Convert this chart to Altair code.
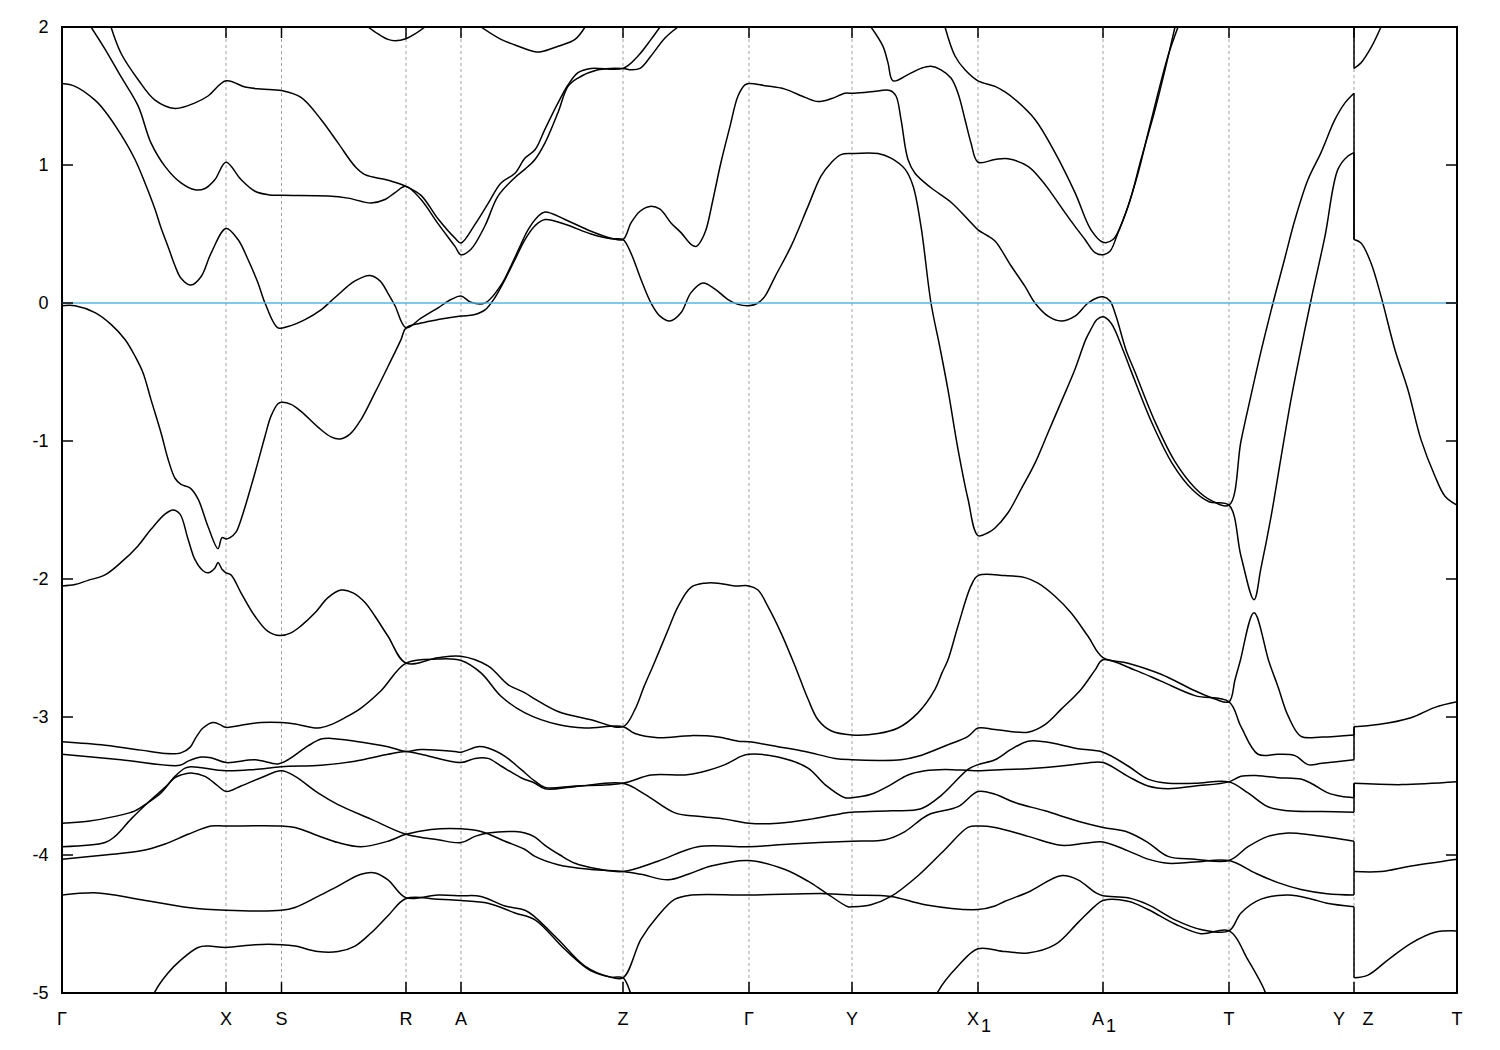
import altair as alt
import pandas as pd

# ---- high-symmetry points along the k-path (path-length units) ----
kpoint_k = [0, 164, 219.5, 344, 399, 561, 687, 790, 916, 1041, 1167, 1292, 1395]
inner_k = [164, 219.5, 344, 399, 561, 687, 790, 916, 1041, 1167, 1292]
plain_label_k = [0, 164, 219.5, 344, 399, 561, 687, 790, 1167, 1395]
plain_label_text = ["Γ", "X", "S", "R", "A", "Z", "Γ", "Y", "T", "T"]
sub_label_k = [916, 1041]
sub_label_text = ["X", "A"]
sub_index_text = ["1", "1"]
yz_k = 1292
energy_ticks = [-5, -4, -3, -2, -1, 0, 1, 2]
k_max = 1395

# ---- band curves (k, E in eV) ----
band_u1 = [(0,1.59),(13,1.57),(33,1.47),(43,1.39),(59,1.22),(73,1.04),(83,0.87),(93,0.68),(99,0.545),(106,0.41),
           (113,0.27),(119,0.18),(129,0.13),(139,0.19),(149,0.36),(164,0.54),(176,0.46),(186,0.315),(196,0.145),
           (203,0.0),(216,-0.18),(226,-0.17),(243,-0.12),(259,-0.05),(273,0.04),(293,0.16),(308,0.20),(318,0.16),
           (326,0.07),(333,-0.02),(344,-0.18),(359,-0.11),(376,-0.035),(389,0.025),(399,0.05),(409,0.005),(423,0.0),
           (439,0.13),(449,0.27),(458,0.41),(466,0.53),(475,0.62),(483,0.66),(503,0.605),(529,0.52),(549,0.47),
           (561,0.46),(569,0.58),(578,0.665),(588,0.70),(598,0.68),(609,0.58),(619,0.51),(629,0.425),(634,0.41),
           (639,0.45),(644,0.53),(651,0.75),(659,1.02),(668,1.28),(676,1.50),(683,1.58),(687,1.59),(703,1.575),
           (723,1.55),(743,1.49),(756,1.46),(769,1.48),(783,1.52),(790,1.52),(809,1.53),(828,1.54),(834,1.50),
           (839,1.33),(846,1.04),(853,0.94),(869,0.835),(889,0.73),(906,0.605),(916,0.53),(925,0.49),(933,0.45),
           (949,0.27),(963,0.12),(973,0.0),(986,-0.095),(999,-0.13),(1013,-0.095),(1026,0.0),(1036,0.04),
           (1041,0.045),(1048,0.015),(1054,-0.095),(1064,-0.34),(1073,-0.50),(1093,-0.86),(1113,-1.15),
           (1133,-1.34),(1149,-1.43),(1167,-1.465),(1179,-1.00),(1189,-0.67),(1199,-0.35),(1211,0.0),
           (1223,0.33),(1233,0.605),(1246,0.895),(1259,1.09),(1273,1.33),(1283,1.45),(1292,1.52),(1292,0.46),
           (1299,0.435),(1309,0.29),(1319,0.05),(1333,-0.34),(1346,-0.63),(1359,-0.99),(1373,-1.255),
           (1383,-1.40),(1395,-1.465)]

band_v1 = [(0,-0.02),(13,-0.02),(33,-0.07),(49,-0.155),(63,-0.265),(73,-0.385),(81,-0.505),(89,-0.70),(99,-0.94),
           (106,-1.13),(113,-1.27),(119,-1.315),(128,-1.34),(136,-1.42),(146,-1.62),(156,-1.78),(160,-1.70),
           (164,-1.71),(168,-1.70),(174,-1.66),(179,-1.57),(193,-1.23),(203,-0.965),(209,-0.82),(216,-0.73),
           (219.5,-0.72),(229,-0.735),(239,-0.785),(256,-0.90),(269,-0.97),(278,-0.985),(288,-0.95),(299,-0.845),
           (313,-0.65),(326,-0.46),(339,-0.265),(344,-0.18),(359,-0.145),(376,-0.12),(399,-0.095),(412,-0.085),
           (423,-0.05),(433,0.04),(443,0.17),(453,0.315),(463,0.46),(473,0.56),(483,0.605),(503,0.57),(529,0.50),
           (549,0.465),(561,0.46),(569,0.36),(579,0.17),(589,0.0),(598,-0.095),(608,-0.13),(619,-0.07),(629,0.075),
           (641,0.145),(653,0.10),(666,0.025),(676,-0.01),(687,-0.02),(696,0.0),(703,0.05),(713,0.19),(729,0.41),
           (746,0.70),(759,0.92),(769,1.015),(779,1.075),(790,1.083),(816,1.083),(829,1.05),(843,0.97),(851,0.85),
           (859,0.555),(869,0.0),(878,-0.325),(886,-0.63),(896,-1.06),(906,-1.42),(916,-1.685),(926,-1.665),
           (933,-1.63),(946,-1.52),(959,-1.35),(973,-1.16),(986,-0.94),(999,-0.72),(1013,-0.48),(1024,-0.26),
           (1029,-0.19),(1035,-0.12),(1041,-0.10),(1049,-0.145),(1061,-0.34),(1070,-0.51),(1090,-0.87),
           (1110,-1.16),(1130,-1.35),(1147,-1.44),(1167,-1.465),(1179,-1.835),(1192,-2.15),(1199,-1.92),
           (1209,-1.55),(1219,-1.12),(1229,-0.70),(1239,-0.33),(1249,0.02),(1263,0.485),(1276,0.97),
           (1286,1.065),(1292,1.09),(1292,0.46)]

band_u2 = [(49,2.0),(59,1.81),(76,1.62),(93,1.47),(113,1.41),(133,1.45),(146,1.50),(164,1.61),(183,1.565),
           (199,1.55),(219.5,1.54),(239,1.49),(259,1.33),(276,1.16),(293,0.99),(303,0.93),(326,0.89),(344,0.845),
           (359,0.78),(376,0.61),(393,0.47),(399,0.435),(413,0.57),(426,0.72),(439,0.87),(453,0.94),(463,1.05),
           (473,1.11),(483,1.26),(496,1.45),(506,1.58),(516,1.67),(529,1.70),(561,1.70),(576,1.79),(589,1.91),
           (598,2.0)]

band_u3 = [(29,2.0),(43,1.84),(59,1.64),(76,1.43),(89,1.16),(103,0.99),(119,0.87),(133,0.82),(143,0.83),(153,0.895),
           (164,1.02),(179,0.895),(193,0.81),(206,0.785),(219.5,0.78),(266,0.775),(286,0.76),(309,0.725),(323,0.75),
           (333,0.80),(344,0.845),(359,0.75),(376,0.575),(393,0.41),(399,0.35),(409,0.39),(423,0.56),(436,0.775),
           (453,0.91),(463,0.97),(473,1.04),(483,1.16),(496,1.38),(506,1.57),(516,1.63),(536,1.69),(561,1.70),
           (569,1.69),(578,1.70),(589,1.79),(603,1.92),(616,2.0)]

band_top_r = [(306,2.0),(316,1.95),(326,1.91),(333,1.90),(344,1.915),(353,1.95),(363,2.0)]
band_top_a = [(419,2.0),(439,1.91),(453,1.87),(473,1.82),(479,1.82),(496,1.86),(513,1.91),(523,2.0)]

band_top_y = [(809,2.0),(821,1.86),(826,1.74),(831,1.61),(846,1.655),(859,1.70),(869,1.715),(879,1.69),(889,1.63),
              (896,1.52),(903,1.33),(909,1.16),(916,1.02),(933,1.04),(946,1.045),(966,0.99),(979,0.895),(989,0.80),
              (1003,0.655),(1013,0.555),(1023,0.46),(1033,0.365),(1041,0.35),(1048,0.375),(1056,0.51),(1066,0.70),
              (1076,0.94),(1086,1.23),(1096,1.52),(1106,1.79),(1116,2.0)]

band_top_x1 = [(883,2.0),(893,1.79),(903,1.69),(916,1.61),(933,1.57),(943,1.53),(953,1.475),(973,1.33),(993,1.09),
               (1013,0.80),(1029,0.53),(1041,0.44),(1051,0.46),(1066,0.70),(1079,1.04),(1093,1.40),(1103,1.69),
               (1113,2.0)]

band_top_z = [(1292,2.3),(1292,1.70),(1299,1.74),(1309,1.85),(1319,2.0)]

band_v2 = [(0,-2.05),(13,-2.04),(26,-2.01),(43,-1.97),(59,-1.88),(76,-1.76),(89,-1.64),(103,-1.53),(111,-1.50),
           (118,-1.53),(126,-1.71),(133,-1.86),(141,-1.94),(146,-1.955),(153,-1.92),(156,-1.88),(160,-1.93),
           (164,-1.955),(169,-1.97),(179,-2.10),(193,-2.27),(206,-2.38),(218,-2.41),(229,-2.39),(239,-2.34),
           (253,-2.245),(266,-2.135),(279,-2.08),(291,-2.10),(303,-2.17),(313,-2.27),(326,-2.415),(344,-2.61),
           (376,-2.57),(399,-2.56),(426,-2.63),(446,-2.765),(463,-2.825),(473,-2.87),(496,-2.96),(529,-3.02),
           (561,-3.07),(573,-2.945),(582,-2.78),(591,-2.63),(606,-2.37),(616,-2.20),(629,-2.06),(643,-2.03),
           (656,-2.03),(673,-2.05),(687,-2.05),(696,-2.08),(706,-2.20),(719,-2.39),(733,-2.63),(746,-2.87),
           (756,-3.02),(769,-3.10),(790,-3.13),(816,-3.12),(836,-3.08),(856,-2.97),(873,-2.80),(880,-2.68),
           (886,-2.585),(896,-2.34),(909,-2.05),(916,-1.975),(943,-1.975),(963,-1.99),(976,-2.03),(993,-2.125),
           (1009,-2.245),(1026,-2.415),(1041,-2.57),(1066,-2.61),(1099,-2.69),(1133,-2.81),(1153,-2.87),
           (1167,-2.89),(1173,-2.73),(1178,-2.60),(1192,-2.245),(1207,-2.60),(1216,-2.78),(1226,-2.99),
           (1239,-3.14),(1260,-3.145),(1292,-3.13),(1292,-3.07),(1316,-3.055),(1349,-3.005),(1373,-2.93),
           (1395,-2.89)]

band_g1 = [(0,-3.18),(43,-3.205),(79,-3.24),(103,-3.265),(119,-3.26),(128,-3.22),(133,-3.16),(141,-3.08),(151,-3.04),
           (158,-3.055),(164,-3.075),(179,-3.06),(199,-3.04),(219.5,-3.04),(233,-3.05),(256,-3.08),(269,-3.055),
           (283,-3.005),(299,-2.935),(319,-2.81),(344,-2.61),(376,-2.58),(399,-2.59),(419,-2.68),(439,-2.85),
           (463,-2.97),(496,-3.055),(523,-3.08),(561,-3.07),(573,-3.12),(596,-3.15),(629,-3.135),(656,-3.145),
           (676,-3.175),(687,-3.18),(716,-3.215),(743,-3.25),(773,-3.30),(790,-3.31),(819,-3.315),(839,-3.31),
           (856,-3.285),(883,-3.21),(906,-3.14),(916,-3.08),(933,-3.09),(966,-3.11),(983,-3.055),(999,-2.945),
           (1019,-2.80),(1033,-2.66),(1041,-2.585),(1073,-2.66),(1099,-2.74),(1133,-2.845),(1167,-2.89),
           (1179,-3.07),(1196,-3.27),(1216,-3.27),(1233,-3.28),(1246,-3.345),(1260,-3.335),(1292,-3.31),
           (1292,-3.07)]

band_g2 = [(0,-3.27),(59,-3.31),(118,-3.35),(126,-3.32),(139,-3.29),(149,-3.295),(164,-3.33),(193,-3.31),(216,-3.34),
           (226,-3.31),(246,-3.21),(259,-3.16),(269,-3.155),(293,-3.175),(326,-3.215),(344,-3.25),(359,-3.235),
           (393,-3.25),(399,-3.255),(416,-3.215),(426,-3.225),(443,-3.285),(459,-3.38),(473,-3.465),(483,-3.51),
           (513,-3.50),(561,-3.48),(589,-3.42),(623,-3.42),(639,-3.40),(663,-3.345),(679,-3.285),(687,-3.27),
           (716,-3.29),(746,-3.37),(763,-3.49),(783,-3.585),(790,-3.585),(809,-3.56),(829,-3.49),(846,-3.42),
           (863,-3.39),(883,-3.38),(916,-3.39),(943,-3.38),(966,-3.375),(999,-3.355),(1023,-3.335),(1041,-3.33),
           (1066,-3.43),(1086,-3.50),(1106,-3.52),(1133,-3.50),(1167,-3.47),(1179,-3.43),(1196,-3.425),
           (1216,-3.44),(1239,-3.45),(1249,-3.48),(1266,-3.55),(1279,-3.575),(1292,-3.585),(1292,-3.48),
           (1340,-3.49),(1395,-3.47)]

band_g3 = [(0,-3.77),(26,-3.755),(53,-3.72),(73,-3.68),(86,-3.62),(99,-3.55),(113,-3.43),(123,-3.37),(129,-3.36),
           (164,-3.39),(193,-3.38),(219.5,-3.36),(259,-3.35),(293,-3.32),(326,-3.27),(344,-3.25),(359,-3.27),
           (399,-3.33),(413,-3.30),(426,-3.30),(439,-3.355),(459,-3.44),(473,-3.48),(483,-3.52),(513,-3.505),
           (561,-3.48),(583,-3.56),(613,-3.695),(636,-3.72),(663,-3.74),(687,-3.77),(716,-3.77),(749,-3.74),
           (783,-3.695),(790,-3.69),(829,-3.68),(859,-3.665),(879,-3.57),(906,-3.38),(916,-3.345),(933,-3.31),
           (949,-3.235),(966,-3.175),(983,-3.18),(1016,-3.23),(1041,-3.255),(1066,-3.355),(1086,-3.45),
           (1106,-3.48),(1133,-3.48),(1167,-3.47),(1186,-3.55),(1206,-3.65),(1226,-3.68),(1260,-3.685),
           (1292,-3.69),(1292,-3.48)]

band_g4 = [(0,-3.94),(43,-3.91),(53,-3.865),(69,-3.74),(89,-3.60),(103,-3.51),(113,-3.44),(119,-3.42),(129,-3.405),
           (143,-3.43),(156,-3.50),(164,-3.54),(179,-3.50),(199,-3.44),(219.5,-3.39),(233,-3.43),(256,-3.55),
           (276,-3.635),(309,-3.74),(344,-3.85),(376,-3.89),(399,-3.91),(413,-3.865),(426,-3.84),(453,-3.83),
           (463,-3.84),(473,-3.87),(483,-3.93),(498,-4.00),(513,-4.06),(535,-4.10),(561,-4.12),(596,-4.045),
           (636,-3.94),(687,-3.94),(729,-3.92),(790,-3.90),(823,-3.89),(843,-3.83),(866,-3.71),(896,-3.65),
           (916,-3.54),(933,-3.56),(953,-3.62),(983,-3.68),(1016,-3.755),(1041,-3.80),(1066,-3.835),(1086,-3.91),
           (1106,-4.01),(1133,-4.03),(1167,-4.04),(1186,-3.94),(1206,-3.865),(1226,-3.84),(1250,-3.855),
           (1292,-3.90),(1292,-4.12),(1319,-4.12),(1349,-4.08),(1395,-4.03)]

band_g5 = [(0,-4.03),(43,-4.00),(79,-3.97),(103,-3.92),(126,-3.85),(149,-3.79),(164,-3.79),(219.5,-3.79),(233,-3.80),
           (256,-3.86),(276,-3.91),(299,-3.94),(326,-3.90),(344,-3.85),(369,-3.815),(399,-3.81),(419,-3.83),
           (443,-3.90),(463,-3.96),(473,-4.01),(496,-4.07),(529,-4.105),(561,-4.12),(579,-4.14),(606,-4.18),
           (626,-4.14),(649,-4.08),(687,-4.04),(723,-4.105),(746,-4.19),(763,-4.27),(786,-4.375),(790,-4.375),
           (809,-4.36),(829,-4.30),(856,-4.15),(883,-3.96),(906,-3.80),(916,-3.79),(933,-3.80),(966,-3.865),
           (999,-3.93),(1023,-3.915),(1041,-3.905),(1066,-3.97),(1086,-4.03),(1106,-4.06),(1133,-4.05),
           (1167,-4.04),(1193,-4.13),(1216,-4.20),(1239,-4.25),(1265,-4.28),(1292,-4.29),(1292,-4.12)]

band_g6 = [(0,-4.29),(36,-4.275),(76,-4.32),(126,-4.38),(164,-4.40),(219.5,-4.40),(233,-4.38),(256,-4.30),(276,-4.225),
           (299,-4.14),(313,-4.13),(326,-4.18),(344,-4.31),(376,-4.29),(399,-4.295),(419,-4.30),(443,-4.37),
           (463,-4.40),(473,-4.45),(496,-4.61),(523,-4.805),(546,-4.88),(561,-4.89),(579,-4.61),(596,-4.44),
           (613,-4.32),(629,-4.29),(687,-4.29),(763,-4.28),(790,-4.29),(829,-4.30),(863,-4.36),(916,-4.395),
           (933,-4.37),(943,-4.335),(966,-4.27),(999,-4.15),(1016,-4.18),(1033,-4.27),(1041,-4.295),(1066,-4.31),
           (1086,-4.36),(1113,-4.47),(1139,-4.54),(1167,-4.55),(1179,-4.42),(1199,-4.32),(1226,-4.29),
           (1250,-4.32),(1265,-4.35),(1292,-4.375),(1292,-4.89),(1306,-4.87),(1326,-4.76),(1349,-4.64),
           (1373,-4.56),(1395,-4.55)]

band_g7 = [(90,-5.05),(93,-4.99),(106,-4.855),(119,-4.76),(136,-4.67),(146,-4.66),(164,-4.67),(193,-4.65),
           (219.5,-4.65),(233,-4.66),(256,-4.70),(276,-4.70),(293,-4.66),(309,-4.565),(326,-4.44),(344,-4.315),
           (376,-4.32),(399,-4.33),(426,-4.35),(453,-4.42),(473,-4.47),(503,-4.685),(529,-4.84),(549,-4.885),
           (561,-4.89),(568,-4.99),(570,-5.05)]

band_g8 = [(873,-5.05),(876,-4.99),(896,-4.805),(916,-4.68),(943,-4.70),(966,-4.71),(993,-4.65),(1016,-4.49),
           (1033,-4.37),(1041,-4.33),(1066,-4.335),(1086,-4.395),(1113,-4.50),(1139,-4.57),(1167,-4.55),
           (1186,-4.76),(1203,-4.99),(1205,-5.05)]

curves = {
    "u1": band_u1, "v1": band_v1, "u2": band_u2, "u3": band_u3, "top_r": band_top_r, "top_a": band_top_a,
    "top_y": band_top_y, "top_x1": band_top_x1, "top_z": band_top_z, "v2": band_v2, "g1": band_g1,
    "g2": band_g2, "g3": band_g3, "g4": band_g4, "g5": band_g5, "g6": band_g6, "g7": band_g7, "g8": band_g8,
}

# split every band at its Y|Z discontinuity: smooth pieces + a straight vertical jump
rows = []
for name, pts in curves.items():
    piece, seg = [pts[0]], 0
    for prev, cur in zip(pts[:-1], pts[1:]):
        if cur[0] == prev[0]:
            if len(piece) > 1:
                for i, (k, e) in enumerate(piece):
                    rows.append({"curve": f"{name}_{seg}", "i": i, "k": k, "E": e})
                seg += 1
            rows.append({"curve": f"{name}_{seg}", "i": 0, "k": prev[0], "E": prev[1]})
            rows.append({"curve": f"{name}_{seg}", "i": 1, "k": cur[0], "E": cur[1]})
            seg += 1
            piece = [cur]
        else:
            piece.append(cur)
    if len(piece) > 1:
        for i, (k, e) in enumerate(piece):
            rows.append({"curve": f"{name}_{seg}", "i": i, "k": k, "E": e})
bands = pd.DataFrame(rows)

W, H = 1395, 966
FONT = "Liberation Sans"

xscale = alt.Scale(domain=[0, k_max], nice=False, zero=False)
yscale = alt.Scale(domain=[-5, 2], nice=False, zero=False)

grid = alt.Chart(pd.DataFrame({"k": inner_k})).mark_rule(
    color="#a0a0a0", strokeWidth=1, strokeDash=[3, 3]
).encode(x=alt.X("k:Q", scale=xscale, axis=None))

lines = alt.Chart(bands).mark_line(
    color="black", strokeWidth=1.5, clip=True, interpolate="catmull-rom"
).encode(
    x=alt.X("k:Q", scale=xscale, axis=None),
    y=alt.Y("E:Q", scale=yscale, title=None,
            axis=alt.Axis(values=energy_ticks, ticks=False, domain=False, grid=False,
                          labelFontSize=18, labelFont=FONT, labelColor="black", labelPadding=14,
                          labelFlush=False, labelExpr="datum.value + ''")),
    detail="curve:N",
    order="i:Q",
)

fermi = alt.Chart(pd.DataFrame({"E": [0]})).mark_rule(color="#56B4E9", strokeWidth=1.5).encode(
    y=alt.Y("E:Q", scale=yscale)
)

tick_df = pd.DataFrame({"E": energy_ticks})
ytick_left = alt.Chart(tick_df).mark_rule(color="black", strokeWidth=1.5).encode(
    y=alt.Y("E:Q", scale=yscale), x=alt.value(0), x2=alt.value(11))
ytick_right = alt.Chart(tick_df).mark_rule(color="black", strokeWidth=1.5).encode(
    y=alt.Y("E:Q", scale=yscale), x=alt.value(W), x2=alt.value(W - 11))

kdf = pd.DataFrame({"k": inner_k})
xtick_top = alt.Chart(kdf).mark_rule(color="black", strokeWidth=1.5).encode(
    x=alt.X("k:Q", scale=xscale), y=alt.value(0), y2=alt.value(11))
xtick_bottom = alt.Chart(kdf).mark_rule(color="black", strokeWidth=1.5).encode(
    x=alt.X("k:Q", scale=xscale), y=alt.value(H), y2=alt.value(H - 11))

label_style = dict(font=FONT, fontSize=18, color="black", baseline="middle", align="center")
plain_labels = alt.Chart(pd.DataFrame({"k": plain_label_k, "t": plain_label_text})).mark_text(
    **label_style).encode(x=alt.X("k:Q", scale=xscale), y=alt.value(H + 27), text="t:N")
sub_main = alt.Chart(pd.DataFrame({"k": sub_label_k, "t": sub_label_text})).mark_text(
    dx=-5, **label_style).encode(x=alt.X("k:Q", scale=xscale), y=alt.value(H + 27), text="t:N")
sub_index = alt.Chart(pd.DataFrame({"k": sub_label_k, "t": sub_index_text})).mark_text(
    dx=8, dy=7, **label_style).encode(x=alt.X("k:Q", scale=xscale), y=alt.value(H + 27), text="t:N")
y_label = alt.Chart(pd.DataFrame({"k": [yz_k], "t": ["Y"]})).mark_text(
    dx=-15, **label_style).encode(x=alt.X("k:Q", scale=xscale), y=alt.value(H + 27), text="t:N")
z_label = alt.Chart(pd.DataFrame({"k": [yz_k], "t": ["Z"]})).mark_text(
    dx=14, **label_style).encode(x=alt.X("k:Q", scale=xscale), y=alt.value(H + 27), text="t:N")

chart = alt.layer(
    grid, lines, fermi, ytick_left, ytick_right, xtick_top, xtick_bottom,
    plain_labels, sub_main, sub_index, y_label, z_label
).properties(
    width=W, height=H,
    autosize=alt.AutoSizeParams(type="none"),
    padding={"left": 54, "top": 19, "right": 30, "bottom": 45},
).configure(
    font=FONT, background="white"
).configure_view(
    stroke="black", strokeWidth=2
)

chart.save("out.html", embed_options={"renderer": "svg", "actions": False})
